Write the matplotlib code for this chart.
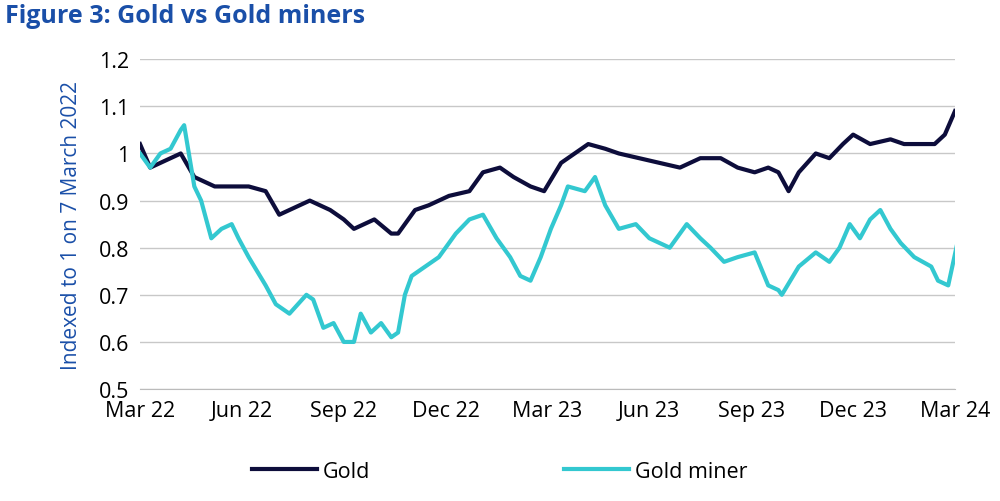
import matplotlib.pyplot as plt

# months since 7 March 2022
gold_t = [0, .3, .6, 1.2, 1.6, 2.2, 3.2, 3.7, 4.1, 5, 5.6, 6, 6.3, 6.9, 7.4, 7.6, 8.1, 8.5, 9.1, 9.7,
          10.1, 10.6, 11, 11.5, 11.9, 12.4, 12.8, 13.2, 13.7, 14.1, 14.7, 15.3, 15.9, 16.5, 17.1, 17.6,
          18.1, 18.5, 18.8, 19.1, 19.4, 19.9, 20.3, 20.7, 21, 21.5, 22.1, 22.5, 22.9, 23.4, 23.7, 24]
gold = [1.02, 0.97, 0.98, 1.0, 0.95, 0.93, 0.93, 0.92, 0.87, 0.90, 0.88, 0.86, 0.84, 0.86, 0.83, 0.83,
        0.88, 0.89, 0.91, 0.92, 0.96, 0.97, 0.95, 0.93, 0.92, 0.98, 1.0, 1.02, 1.01, 1.0, 0.99, 0.98,
        0.97, 0.99, 0.99, 0.97, 0.96, 0.97, 0.96, 0.92, 0.96, 1.0, 0.99, 1.02, 1.04, 1.02, 1.03, 1.02,
        1.02, 1.02, 1.04, 1.09]

miner_t = [0, .3, .6, .9, 1.2, 1.3, 1.6, 1.8, 2.1, 2.4, 2.7, 2.9, 3.2, 3.7, 4, 4.4, 4.9, 5.1, 5.4,
           5.7, 6, 6.3, 6.5, 6.8, 7.1, 7.4, 7.6, 7.8, 8, 8.4, 8.8, 9.3, 9.7, 10.1, 10.5, 10.9, 11.2,
           11.5, 11.8, 12.1, 12.4, 12.6, 13.1, 13.4, 13.7, 14.1, 14.6, 15, 15.6, 16.1, 16.5, 16.8,
           17.2, 17.6, 18.1, 18.5, 18.8, 18.9, 19.4, 19.9, 20.3, 20.6, 20.9, 21.2, 21.5, 21.8, 22.1,
           22.4, 22.8, 23.3, 23.5, 23.8, 24.1]
miner = [1.0, 0.97, 1.0, 1.01, 1.05, 1.06, 0.93, 0.90, 0.82, 0.84, 0.85, 0.82, 0.78, 0.72, 0.68,
         0.66, 0.70, 0.69, 0.63, 0.64, 0.60, 0.60, 0.66, 0.62, 0.64, 0.61, 0.62, 0.70, 0.74, 0.76,
         0.78, 0.83, 0.86, 0.87, 0.82, 0.78, 0.74, 0.73, 0.78, 0.84, 0.89, 0.93, 0.92, 0.95, 0.89,
         0.84, 0.85, 0.82, 0.80, 0.85, 0.82, 0.80, 0.77, 0.78, 0.79, 0.72, 0.71, 0.70, 0.76, 0.79,
         0.77, 0.80, 0.85, 0.82, 0.86, 0.88, 0.84, 0.81, 0.78, 0.76, 0.73, 0.72, 0.82]

tick_pos = [0, 3, 6, 9, 12, 15, 18, 21, 24]
tick_labels = ['Mar 22', 'Jun 22', 'Sep 22', 'Dec 22', 'Mar 23', 'Jun 23', 'Sep 23', 'Dec 23', 'Mar 24']

plt.rcParams['font.family'] = ['Open Sans', 'DejaVu Sans']
blue = '#1a4fa8'

fig = plt.figure(figsize=(10, 5.02), dpi=100)
ax = fig.add_axes([0.14, 0.223, 0.815, 0.657])
ax.plot(gold_t, gold, color='#0d0d3b', lw=3, label='Gold')
ax.plot(miner_t, miner, color='#33c8d0', lw=3, label='Gold miner')

ax.set_xlim(0, 24)
ax.set_ylim(0.5, 1.2)
ax.set_xticks(tick_pos)
ax.set_xticklabels(tick_labels)
ax.set_yticks([0.5, 0.6, 0.7, 0.8, 0.9, 1.0, 1.1, 1.2])
ax.set_yticklabels(['0.5', '0.6', '0.7', '0.8', '0.9', '1', '1.1', '1.2'])
ax.tick_params(labelsize=15.5, length=0, pad=8)
ax.grid(axis='y', color='#c8c8c8', lw=1)
for s in ['top', 'right', 'left']:
    ax.spines[s].set_visible(False)
ax.spines['bottom'].set_color('#bbbbbb')
ax.set_ylabel('Indexed to 1 on 7 March 2022', color=blue, fontsize=15, labelpad=12)

fig.text(0.005, 0.955, 'Figure 3: Gold vs Gold miners', color=blue, fontsize=18, fontweight='bold')
fig.legend(loc='lower center', bbox_to_anchor=(0.5, 0.0), ncol=2, frameon=False,
           fontsize=15.5, columnspacing=9, handlelength=3, handletextpad=0.3)

fig.savefig('out.png', dpi=100)
